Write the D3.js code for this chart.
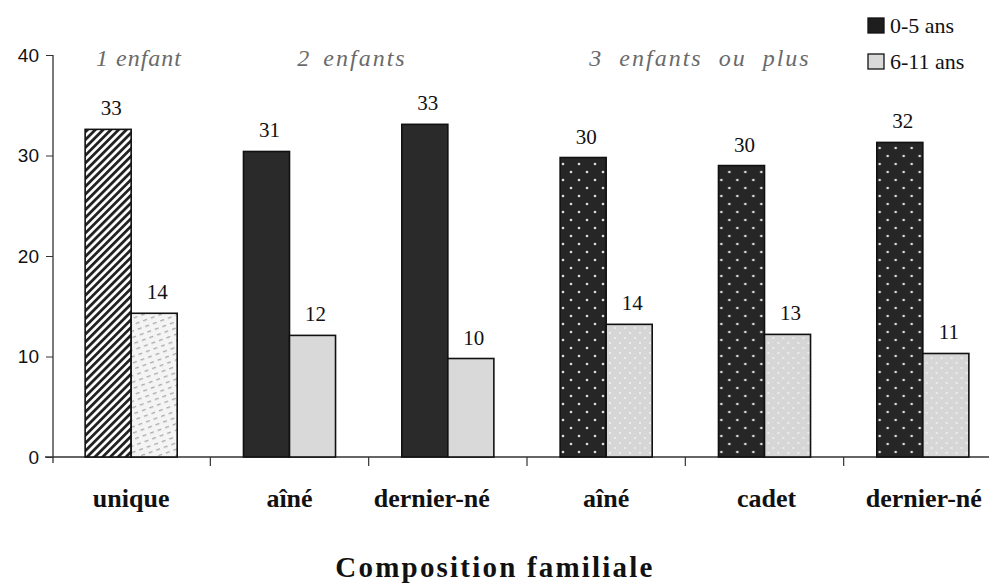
<!DOCTYPE html>
<html><head><meta charset="utf-8">
<script src="https://cdn.jsdelivr.net/npm/d3@7"></script>
<style>body{margin:0;background:#fff}svg{display:block}</style>
</head><body>
<svg id="c" width="989" height="585"></svg>
<script>
const categories = ["unique","aîné","dernier-né","aîné","cadet","dernier-né"];
const series = ["0-5 ans","6-11 ans"];
const values05 = [32.6, 30.4, 33.1, 29.8, 29.0, 31.3];
const values611 = [14.3, 12.1, 9.8, 13.2, 12.2, 10.3];
const labels05 = [33, 31, 33, 30, 30, 32];
const labels611 = [14, 12, 10, 14, 13, 11];
const groupTitles = ["1 enfant", "2 enfants", "3 enfants ou plus"];
const yTicks = [0, 10, 20, 30, 40];

const svg = d3.select("#c");
const serif = "'Liberation Serif','Times New Roman',serif";
const defs = svg.append("defs");
// hatch pattern
const ph = defs.append("pattern").attr("id","hatch").attr("patternUnits","userSpaceOnUse")
  .attr("width",5.5).attr("height",5.5).attr("patternTransform","rotate(45)");
ph.append("rect").attr("width",5.5).attr("height",5.5).attr("fill","#fff");
ph.append("rect").attr("width",2.8).attr("height",5.5).attr("fill","#222");
// light dashed
const pl = defs.append("pattern").attr("id","lightdash").attr("patternUnits","userSpaceOnUse")
  .attr("width",8).attr("height",6).attr("patternTransform","rotate(-20)");
pl.append("rect").attr("width",8).attr("height",6).attr("fill","#f4f4f4");
pl.append("rect").attr("x",0).attr("y",2).attr("width",4).attr("height",1.3).attr("fill","#aaa");
// dark dots
const pd = defs.append("pattern").attr("id","darkdots").attr("patternUnits","userSpaceOnUse")
  .attr("width",16).attr("height",16);
pd.append("rect").attr("width",16).attr("height",16).attr("fill","#262626");
pd.append("circle").attr("cx",4).attr("cy",4).attr("r",1.3).attr("fill","#ddd");
pd.append("circle").attr("cx",12).attr("cy",12).attr("r",1.3).attr("fill","#ddd");
// light dots
const pld = defs.append("pattern").attr("id","lightdots").attr("patternUnits","userSpaceOnUse")
  .attr("width",10).attr("height",10);
pld.append("rect").attr("width",10).attr("height",10).attr("fill","#d6d6d6");
pld.append("circle").attr("cx",3).attr("cy",3).attr("r",1).attr("fill","#f2f2f2");
pld.append("circle").attr("cx",8).attr("cy",8).attr("r",1).attr("fill","#f2f2f2");

const fills05 = ["url(#hatch)","#2a2a2a","#2a2a2a","url(#darkdots)","url(#darkdots)","url(#darkdots)"];
const fills611 = ["url(#lightdash)","#d9d9d9","#d9d9d9","url(#lightdots)","url(#lightdots)","url(#lightdots)"];

const x = d3.scaleBand().domain(d3.range(categories.length)).range([52, 1002]).paddingInner(0).paddingOuter(0);
const sub = d3.scaleBand().domain(series).range([0, x.bandwidth()]).paddingInner(0).paddingOuter(0.72);
const y = d3.scaleLinear().domain([0, 40]).range([457, 55]);

// axes
const yAxis = d3.axisLeft(y).tickValues(yTicks).tickSize(7).tickPadding(7);
const gy = svg.append("g").attr("transform","translate(53,0)").call(yAxis);
gy.select(".domain").attr("d","M0,55V463").attr("stroke","#333").attr("stroke-width",1.3);
gy.selectAll(".tick line").attr("stroke","#333");
gy.selectAll(".tick text").attr("font-family","'Liberation Sans',Arial,sans-serif").attr("font-size",19).attr("fill","#111");

const xAxis = d3.axisBottom(x).tickValues([]).tickSizeOuter(0);
const gx = svg.append("g").attr("transform","translate(0,457)").call(xAxis);
gx.select(".domain").attr("d","M45,0H989").attr("stroke","#333").attr("stroke-width",1.3);
svg.append("g").selectAll("line").data(d3.range(1, categories.length)).join("line")
  .attr("x1", d => x(d)).attr("x2", d => x(d)).attr("y1", 457).attr("y2", 466)
  .attr("stroke","#333").attr("stroke-width",1.2);

// bars
const bars = svg.append("g");
categories.forEach((c, i) => {
  const data = [
    {s: series[0], v: values05[i], l: labels05[i], f: fills05[i]},
    {s: series[1], v: values611[i], l: labels611[i], f: fills611[i]}
  ];
  const g = bars.append("g").attr("transform", `translate(${x(i)},0)`);
  g.selectAll("rect").data(data).join("rect")
    .attr("x", d => sub(d.s)).attr("width", sub.bandwidth())
    .attr("y", d => y(d.v)).attr("height", d => y(0) - y(d.v))
    .attr("fill", d => d.f).attr("stroke","#111").attr("stroke-width",1.6);
  g.selectAll("text").data(data).join("text")
    .attr("x", d => sub(d.s) + sub.bandwidth()/2 + 3).attr("y", d => y(d.v) - 14)
    .attr("text-anchor","middle").attr("font-family", serif).attr("font-size",21).attr("fill","#111")
    .text(d => d.l);
});

// category labels
svg.append("g").selectAll("text").data(categories).join("text")
  .attr("x", (d, i) => x(i) + x.bandwidth()/2 + [0,0,-16,0,2,1][i]).attr("y", 507)
  .attr("text-anchor","middle").attr("font-family", serif).attr("font-weight","bold")
  .attr("font-size",26).attr("fill","#111").text(d => d);

// group titles
const titleX = [139, 352, 700];
const titleLS = [1, 2, 2];
const titleWS = [0, 4, 8];
svg.append("g").selectAll("text").data(groupTitles).join("text")
  .attr("x", (d, i) => titleX[i]).attr("y", 66).attr("text-anchor","middle")
  .attr("font-family", serif).attr("font-style","italic").attr("font-size",24)
  .attr("letter-spacing", (d, i) => titleLS[i]).attr("word-spacing", (d, i) => titleWS[i])
  .attr("fill","#6a6a6a").text(d => d);

// axis title
svg.append("text").attr("x", 495).attr("y", 577).attr("text-anchor","middle")
  .attr("font-family", serif).attr("font-weight","bold").attr("font-size",29)
  .attr("letter-spacing",2.2).attr("fill","#111")
  .text("Composition familiale");

// legend
const leg = svg.append("g").attr("transform","translate(868,18)");
const legFill = ["#1e1e1e","#d9d9d9"];
series.forEach((s, i) => {
  leg.append("rect").attr("x",0).attr("y", i*36).attr("width",16).attr("height",15)
    .attr("fill", legFill[i]).attr("stroke","#111").attr("stroke-width",1.3);
  leg.append("text").attr("x",22).attr("y", i*36 + 15).attr("font-family", serif)
    .attr("font-size",22).attr("fill","#111").text(s);
});
</script>
</body></html>
